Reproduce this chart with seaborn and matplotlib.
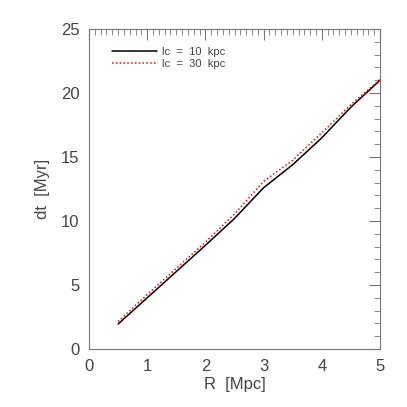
import matplotlib
matplotlib.use("Agg")
import matplotlib.pyplot as plt
import seaborn as sns
import pandas as pd
from matplotlib.ticker import MultipleLocator

R = [0.5, 1.0, 1.5, 2.0, 2.5, 3.0, 3.5, 4.0, 4.5, 5.0]
dt_lc10 = [1.95, 4.0, 6.05, 8.1, 10.2, 12.6, 14.4, 16.5, 18.9, 21.0]
dt_lc30 = [2.15, 4.25, 6.3, 8.35, 10.55, 13.1, 14.75, 16.9, 19.1, 21.05]
labels = ["lc = 10 kpc", "lc = 30 kpc"]

df = pd.concat([
    pd.DataFrame({"R": R, "dt": dt_lc10, "lc": labels[0]}),
    pd.DataFrame({"R": R, "dt": dt_lc30, "lc": labels[1]}),
])

sns.set_style("white")
plt.rcParams["font.family"] = ["Liberation Sans", "DejaVu Sans"]
fig = plt.figure(figsize=(4.07, 4.07), dpi=100)
ax = fig.add_axes([0.2187, 0.1425, 0.715, 0.7862])

sns.lineplot(data=df, x="R", y="dt", hue="lc", style="lc",
             palette={labels[0]: "black", labels[1]: "red"},
             dashes={labels[0]: "", labels[1]: (1, 1.5)},
             linewidth=1.1, ax=ax)

ax.set_xlim(0, 5)
ax.set_ylim(0, 25)
ax.xaxis.set_major_locator(MultipleLocator(1))
ax.xaxis.set_minor_locator(MultipleLocator(0.1))
ax.yaxis.set_major_locator(MultipleLocator(5))
ax.yaxis.set_minor_locator(MultipleLocator(1))
tc = "#444444"
ax.tick_params(which="both", direction="in", top=True, right=True, colors="#777777",
               labelcolor=tc, labelsize=12, pad=7)
ax.tick_params(which="major", length=8, width=0.8)
ax.tick_params(which="minor", length=4, width=0.6)
for s in ax.spines.values():
    s.set_color("#777777")
    s.set_linewidth(0.8)
ax.set_xlabel("R  [Mpc]", fontsize=12, color=tc, labelpad=2)
ax.set_ylabel("dt  [Myr]", fontsize=12, color=tc, labelpad=8)

handles, labs = ax.get_legend_handles_labels()
leg = ax.legend(handles, [l.replace(" ", "  ") for l in labs],
                loc="upper left", bbox_to_anchor=(0.045, 0.975), frameon=False,
                fontsize=8, handlelength=4.0, handletextpad=0.5,
                labelspacing=0.2)
for t in leg.get_texts():
    t.set_color(tc)

fig.savefig("out.png", dpi=100)
